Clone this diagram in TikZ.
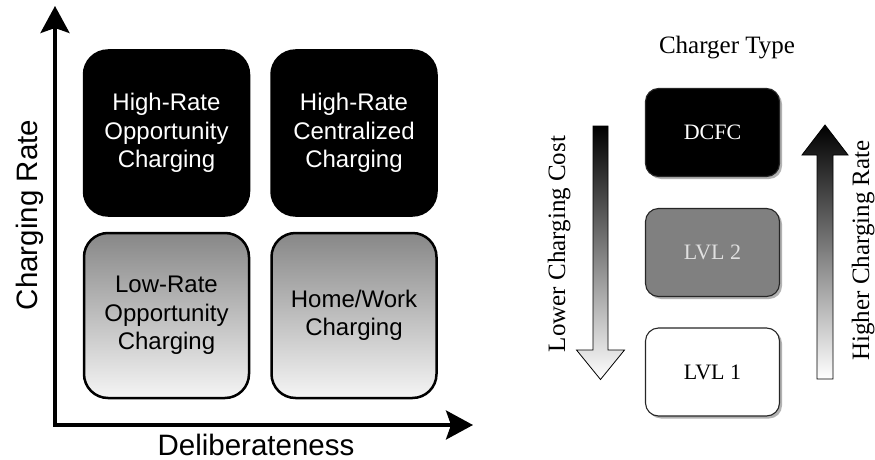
\documentclass[tikz,border=0pt]{standalone}
\usepackage{fontspec}
\setmainfont{Liberation Serif}
\newfontfamily\arialf{Liberation Sans}
\usetikzlibrary{arrows.meta,shadows}
\begin{document}
\begin{tikzpicture}[x=1pt,y=-1pt,
  quad/.style={draw=black, line width=2.5pt, rounded corners=24pt,
    minimum width=165pt, minimum height=165pt, inner sep=0pt, align=center,
    font=\arialf\fontsize{24}{28.5}\selectfont},
  quaddark/.style={quad, fill=black, text=white},
  quadlight/.style={quad, top color=black!47, bottom color=black!4},
  ctype/.style={draw=black!85, line width=1.1pt, rounded corners=13pt,
    minimum width=134pt, minimum height=88pt, inner sep=0pt,
    font=\fontsize{22}{26}\selectfont,
    general shadow={fill=black!30, shadow xshift=2.5pt, shadow yshift=-2.5pt}},
  axistip/.tip={Stealth[length=27pt,width=29pt,inset=5pt]},
  axis/.style={line width=3.4pt, line join=miter, axistip-axistip},
  axislabel/.style={font=\arialf\fontsize{29.5}{32}\selectfont},
  sidelabel/.style={font=\fontsize{25}{30}\selectfont},
  blockarrow/.style={draw=black, line width=0.8pt, top color=black, bottom color=white}
]
\useasboundingbox (0,0) rectangle (875,460);

% axes
\coordinate (ytip) at (55,6);
\coordinate (xtip) at (473,425);
\draw[axis] (ytip) |- (xtip);
\node[axislabel, rotate=90, anchor=base] (ylab) at (37,215) {Charging Rate};
\node[axislabel, anchor=base] (xlab) at (256,455) {Deliberateness};

% quadrants
\node[quaddark] (hro) at (166.5,133) {High-Rate\\Opportunity\\Charging};
\node[quaddark] (hrc) at (354,133) {High-Rate\\Centralized\\Charging};
\node[quadlight] (lro) at (166.5,315.5) {Low-Rate\\Opportunity\\Charging};
\node[quadlight] (hw) at (354,315.5) {Home/Work\\Charging};

% charger types
\node[sidelabel, anchor=base] (title) at (727,53) {Charger Type};
\node[ctype, fill=black, text=white] (dcfc) at (712.5,132.5) {DCFC};
\node[ctype, fill=black!50, text=black!12] (lvl2) at (712.5,252.5) {LVL 2};
\node[ctype, fill=white, text=black] (lvl1) at (712.5,372) {LVL 1};

% block arrows
\path[blockarrow] (593,126) -- (608,126) -- (608,350) -- (624.5,350)
  -- (600.5,379.5) -- (576.5,350) -- (593,350) -- cycle;
\path[blockarrow] (817,379) -- (833,379) -- (833,155) -- (848,155)
  -- (825,125) -- (802,155) -- (817,155) -- cycle;
\node[sidelabel, rotate=90, anchor=base] (lcc) at (565,244) {Lower Charging Cost};
\node[sidelabel, rotate=90, anchor=base] (hcr) at (869,250.5) {Higher Charging Rate};
\end{tikzpicture}
\end{document}
